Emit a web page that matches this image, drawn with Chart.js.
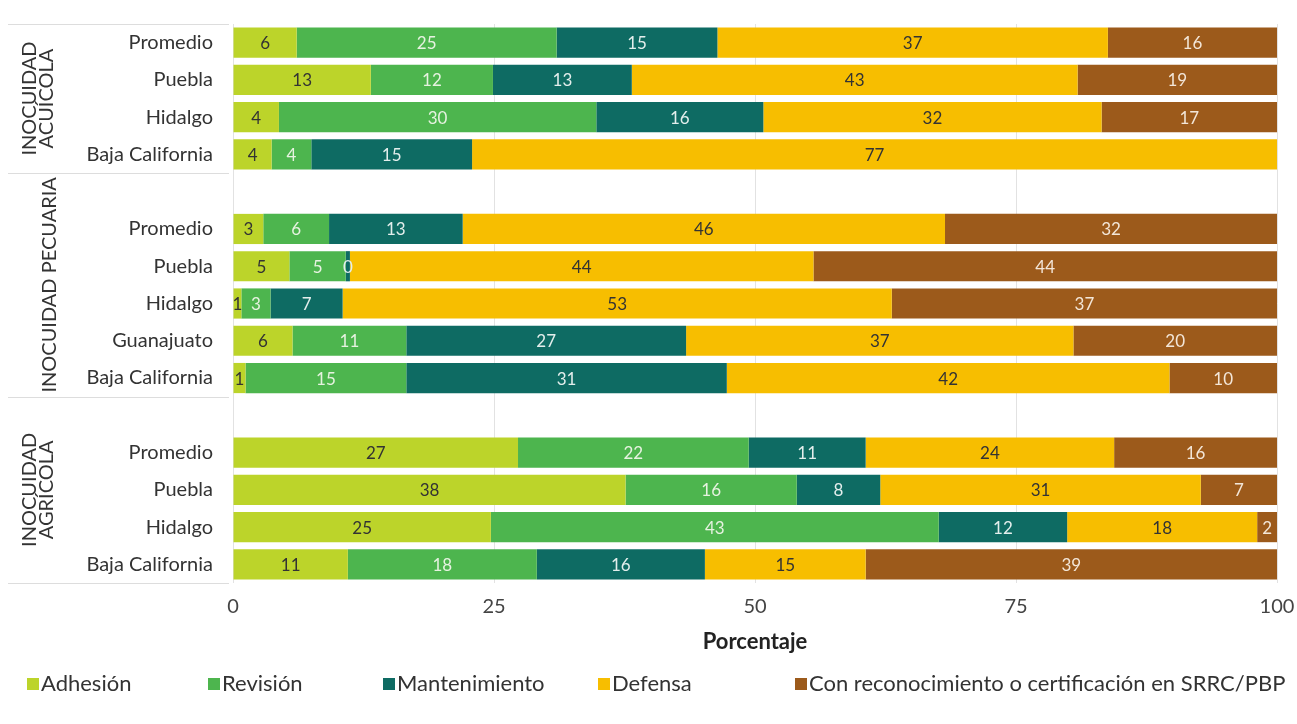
<!DOCTYPE html>
<html>
<head>
<meta charset="utf-8">
<script src="https://cdn.jsdelivr.net/npm/chart.js@4.4.1/dist/chart.umd.min.js"></script>
<style>
  body { margin: 0; background: #fff; }
  #wrap { width: 1297px; height: 724px; position: relative; }
</style>
</head>
<body>
<div id="wrap"><canvas id="grafico"></canvas></div>
<script>
// filas de arriba hacia abajo, '' = separacion entre grupos
const categorias = ['Promedio', 'Puebla', 'Hidalgo', 'Baja California', '',
    'Promedio', 'Puebla', 'Hidalgo', 'Guanajuato', 'Baja California', '',
    'Promedio', 'Puebla', 'Hidalgo', 'Baja California'];

const adhesion      = [6.1, 13.2, 4.4, 3.7, null, 2.9, 5.4, 0.8, 5.7, 1.2, null, 27.3, 37.6, 24.7, 11.0];
const revision      = [24.9, 11.7, 30.4, 3.8, null, 6.3, 5.4, 2.8, 10.9, 15.4, null, 22.1, 16.4, 42.9, 18.1];
const mantenimiento = [15.4, 13.3, 16.0, 15.4, null, 12.8, 0.4, 6.9, 26.8, 30.7, null, 11.2, 8.0, 12.3, 16.1];
const defensa       = [37.4, 42.7, 32.4, 77.1, null, 46.2, 44.4, 52.6, 37.1, 42.4, null, 23.8, 30.7, 18.2, 15.4];
const certificacion = [16.2, 19.1, 16.8, 0, null, 31.8, 44.4, 36.9, 19.5, 10.3, null, 15.6, 7.3, 1.9, 39.4];

const grupos = [
    { lineas: ['INOCUIDAD', 'ACUÍCOLA'], desde: 0, hasta: 3 },
    { lineas: ['INOCUIDAD PECUARIA'], desde: 4, hasta: 9 },
    { lineas: ['INOCUIDAD', 'AGRÍCOLA'], desde: 10, hasta: 14 }
];

const xTicks = [0, 25, 50, 75, 100];
const tituloX = 'Porcentaje';

const fuente = "Lato, 'Open Sans', sans-serif";

// etiquetas de valor dentro de cada barra
const etiquetas = {
    id: 'etiquetas',
    afterDatasetsDraw(chart) {
        const ctx = chart.ctx;
        ctx.save();
        ctx.font = '17px ' + fuente;
        ctx.textAlign = 'center';
        ctx.textBaseline = 'middle';
        chart.data.datasets.forEach(function(ds, i) {
            const meta = chart.getDatasetMeta(i);
            meta.data.forEach(function(bar, j) {
                const v = ds.data[j];
                if (v === null || v <= 0) return;
                ctx.fillStyle = ds.textColor;
                const x = (bar.x + bar.base) / 2;
                ctx.fillText(Math.round(v), x, bar.y + 1);
            });
        });
        ctx.restore();
    }
};

// nombres de grupo rotados y lineas separadoras
const gruposPlugin = {
    id: 'grupos',
    afterDraw(chart) {
        const ctx = chart.ctx;
        const y = chart.scales.y;
        const fila = y.getPixelForValue(1) - y.getPixelForValue(0);
        ctx.save();
        ctx.strokeStyle = '#dddddd';
        ctx.lineWidth = 1;
        grupos.forEach(function(g, k) {
            const top = y.getPixelForValue(g.desde) - fila / 2;
            const bot = y.getPixelForValue(g.hasta) + fila / 2;
            ctx.beginPath();
            if (k === 0) {
                ctx.moveTo(8, Math.round(top) + 0.5);
                ctx.lineTo(229, Math.round(top) + 0.5);
            }
            ctx.moveTo(8, Math.round(bot) + 0.5);
            ctx.lineTo(229, Math.round(bot) + 0.5);
            ctx.stroke();

            const cy = (top + bot) / 2;
            ctx.save();
            ctx.translate(g.lineas.length === 1 ? 50 : 38, cy);
            ctx.rotate(-Math.PI / 2);
            ctx.fillStyle = '#333333';
            ctx.font = '20px ' + fuente;
            ctx.textAlign = 'center';
            ctx.textBaseline = 'middle';
            g.lineas.forEach(function(t, n) {
                const off = (n - (g.lineas.length - 1) / 2) * 17;
                ctx.fillText(t, 0, off);
            });
            ctx.restore();
        });
        ctx.restore();
    }
};

// titulo del eje y leyenda en una sola fila, como en el original
const leyenda = {
    id: 'leyenda',
    afterDraw(chart) {
        const ctx = chart.ctx;
        const area = chart.chartArea;
        ctx.save();
        ctx.fillStyle = '#222222';
        ctx.font = 'bold 22px ' + fuente;
        ctx.textAlign = 'center';
        ctx.textBaseline = 'middle';
        ctx.fillText(tituloX, (area.left + area.right) / 2, 642);

        const xs = [27, 208, 383, 598, 795];
        const yc = 684;
        ctx.font = '22px ' + fuente;
        ctx.textAlign = 'left';
        chart.data.datasets.forEach(function(ds, i) {
            ctx.fillStyle = ds.backgroundColor;
            ctx.fillRect(xs[i], yc - 6, 12, 12);
            ctx.fillStyle = '#333333';
            ctx.fillText(ds.label, xs[i] + 14, yc);
        });
        ctx.restore();
    }
};

function serie(label, data, color, textColor) {
    return {
        label: label,
        data: data,
        backgroundColor: color,
        borderWidth: 0,
        textColor: textColor,
        categoryPercentage: 0.81,
        barPercentage: 1
    };
}

new Chart(document.getElementById('grafico'), {
    type: 'bar',
    data: {
        labels: categorias,
        datasets: [
            serie('Adhesión', adhesion, '#bcd42a', '#333333'),
            serie('Revisión', revision, '#4db54e', '#e6f2e0'),
            serie('Mantenimiento', mantenimiento, '#0e6b63', '#e3eeec'),
            serie('Defensa', defensa, '#f7be00', '#333333'),
            serie('Con reconocimiento o certificación en SRRC/PBP', certificacion, '#9c5a1b', '#f3e6d8')
        ]
    },
    options: {
        indexAxis: 'y',
        responsive: true,
        maintainAspectRatio: false,
        animation: false,
        layout: { padding: { top: 18, right: 20, bottom: 93, left: 0 } },
        scales: {
            x: {
                stacked: true,
                min: 0,
                max: 100,
                afterBuildTicks: function(scale) {
                    scale.ticks = xTicks.map(function(v) { return { value: v }; });
                },
                afterFit: function(scale) {
                    scale.paddingRight = 0;
                    scale.paddingLeft = 0;
                },
                grid: { color: '#e2e2e2', drawTicks: false },
                border: { display: false },
                ticks: {
                    color: '#444444',
                    font: { family: fuente, size: 20 },
                    padding: 12
                }
            },
            y: {
                stacked: true,
                grid: { display: false },
                border: { display: false },
                afterFit: function(scale) { scale.width = 233; },
                ticks: {
                    color: '#333333',
                    font: { family: fuente, size: 20 },
                    padding: 12
                }
            }
        },
        plugins: {
            legend: { display: false },
            tooltip: { enabled: false }
        }
    },
    plugins: [etiquetas, gruposPlugin, leyenda]
});
</script>
</body>
</html>
